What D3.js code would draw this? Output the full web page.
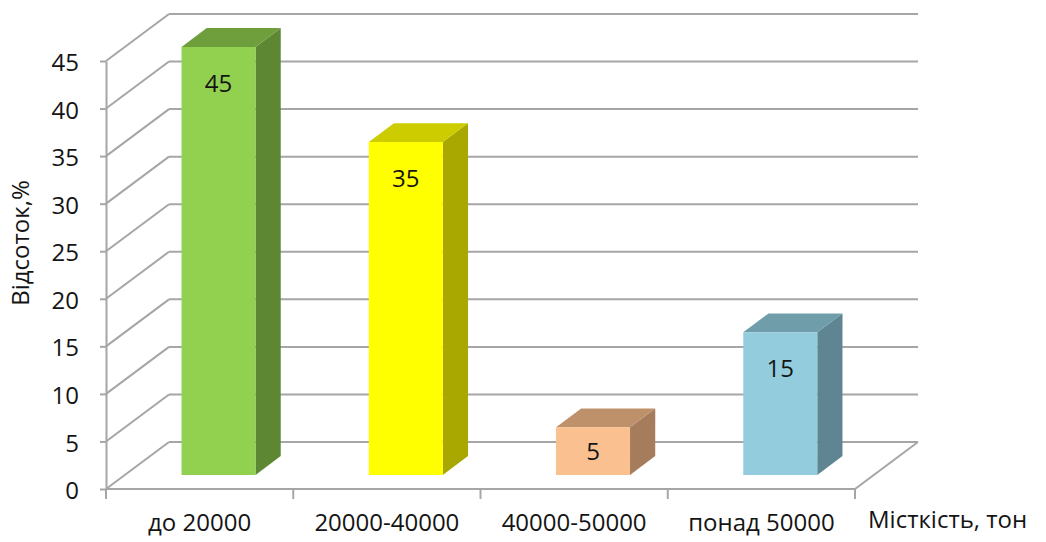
<!DOCTYPE html>
<html>
<head>
<meta charset="utf-8">
<script src="https://cdn.jsdelivr.net/npm/d3@7"></script>
<style>
  body { margin: 0; background: #fff; }
  svg text { font-family: "Open Sans", Lato, sans-serif; fill: #141414; }
</style>
</head>
<body>
<svg id="chart" width="1046" height="542"></svg>
<script>
const categories = ["до 20000", "20000-40000", "40000-50000", "понад 50000"];
const values = [45, 35, 5, 15];
const yTicks = [0, 5, 10, 15, 20, 25, 30, 35, 40, 45];
const frontColors = ["#92d050", "#ffff00", "#fac090", "#93cddd"];
const topColors = ["#6f9e3d", "#cccc00", "#bf916a", "#6f9daa"];
const sideColors = ["#5e8734", "#a8a800", "#a67d5c", "#5e8591"];

const svg = d3.select("#chart");
const gridColor = "#a6a6a6";
const fontSize = "24px";

// depth offset of the 3d box (back wall relative to front)
const depthX = 63;
const depthY = 47;

const x = d3.scaleBand().domain(categories).range([106, 855]);
const y = d3.scaleLinear().domain([0, 45]).range([489, 61]);

// project a point at front-plane coords shifted back by z (0..1)
function pt(xv, yv, z) {
    return [xv + z * depthX, yv - z * depthY];
}

const line = d3.line();

const walls = svg.append("g");

// back wall gridlines
walls.selectAll(".back")
    .data(yTicks)
    .enter()
    .append("path")
    .attr("d", d => line([pt(x.range()[0], y(d), 1), pt(x.range()[1], y(d), 1)]))
    .attr("stroke", gridColor)
    .attr("stroke-width", 2)
    .attr("fill", "none");

// side wall diagonals
walls.selectAll(".side")
    .data(yTicks)
    .enter()
    .append("path")
    .attr("d", d => line([pt(x.range()[0], y(d), 0), pt(x.range()[0], y(d), 1)]))
    .attr("stroke", gridColor)
    .attr("stroke-width", 2)
    .attr("fill", "none");

// floor: right edge and front edge
walls.append("path")
    .attr("d", line([pt(x.range()[0], y(0), 0), pt(x.range()[1], y(0), 0), pt(x.range()[1], y(0), 1)]))
    .attr("stroke", gridColor)
    .attr("stroke-width", 2)
    .attr("fill", "none");

// bars
const halfW = 37;
const z0 = 0.3, z1 = 0.7;

const bars = svg.append("g")
    .selectAll("g")
    .data(values)
    .enter()
    .append("g");

bars.append("path")
    .attr("d", (d, i) => {
        const xc = x(categories[i]) + x.bandwidth() / 2;
        return line([
            pt(xc + halfW, y(0), z0), pt(xc + halfW, y(0), z1),
            pt(xc + halfW, y(d), z1), pt(xc + halfW, y(d), z0)]) + "Z";
    })
    .attr("fill", (d, i) => sideColors[i]);

bars.append("path")
    .attr("d", (d, i) => {
        const xc = x(categories[i]) + x.bandwidth() / 2;
        return line([
            pt(xc - halfW, y(d), z0), pt(xc + halfW, y(d), z0),
            pt(xc + halfW, y(d), z1), pt(xc - halfW, y(d), z1)]) + "Z";
    })
    .attr("fill", (d, i) => topColors[i]);

bars.append("path")
    .attr("d", (d, i) => {
        const xc = x(categories[i]) + x.bandwidth() / 2;
        return line([
            pt(xc - halfW, y(0), z0), pt(xc + halfW, y(0), z0),
            pt(xc + halfW, y(d), z0), pt(xc - halfW, y(d), z0)]) + "Z";
    })
    .attr("fill", (d, i) => frontColors[i]);

bars.append("text")
    .attr("x", (d, i) => pt(x(categories[i]) + x.bandwidth() / 2, 0, z0)[0])
    .attr("y", d => pt(0, y(Math.max(d - 3.8, d / 2)), z0)[1])
    .attr("dy", "0.36em")
    .attr("text-anchor", "middle")
    .style("font-size", fontSize)
    .text(d => d);

// y axis
const yAxis = d3.axisLeft(y)
    .tickValues(yTicks)
    .tickSize(6)
    .tickSizeOuter(0)
    .tickPadding(21);

const yG = svg.append("g")
    .attr("transform", "translate(106,0)")
    .call(yAxis);
yG.select(".domain").attr("stroke", gridColor).attr("stroke-width", 2);
yG.selectAll(".tick line").attr("stroke", gridColor).attr("stroke-width", 2);
yG.selectAll(".tick text")
    .style("font-size", fontSize)
    .style("font-family", "'Open Sans', Lato, sans-serif")
    .attr("fill", "#141414")
    .attr("dy", "0.4em");

// x axis ticks at band edges
const edges = categories.map(c => x(c)).concat([x.range()[1]]);
svg.append("g")
    .selectAll("line")
    .data(edges)
    .enter()
    .append("line")
    .attr("x1", d => d)
    .attr("x2", d => d)
    .attr("y1", y(0))
    .attr("y2", y(0) + 10)
    .attr("stroke", gridColor)
    .attr("stroke-width", 2);

svg.append("g")
    .selectAll("text")
    .data(categories)
    .enter()
    .append("text")
    .attr("x", d => x(d) + x.bandwidth() / 2)
    .attr("y", 531)
    .attr("text-anchor", "middle")
    .style("font-size", fontSize)
    .text(d => d);

// axis titles
svg.append("text")
    .attr("x", 868)
    .attr("y", 528)
    .style("font-size", fontSize)
    .text("Місткість, тон");

svg.append("text")
    .attr("transform", "translate(29,243) rotate(-90)")
    .attr("text-anchor", "middle")
    .style("font-size", fontSize)
    .text("Відсоток,%");
</script>
</body>
</html>
